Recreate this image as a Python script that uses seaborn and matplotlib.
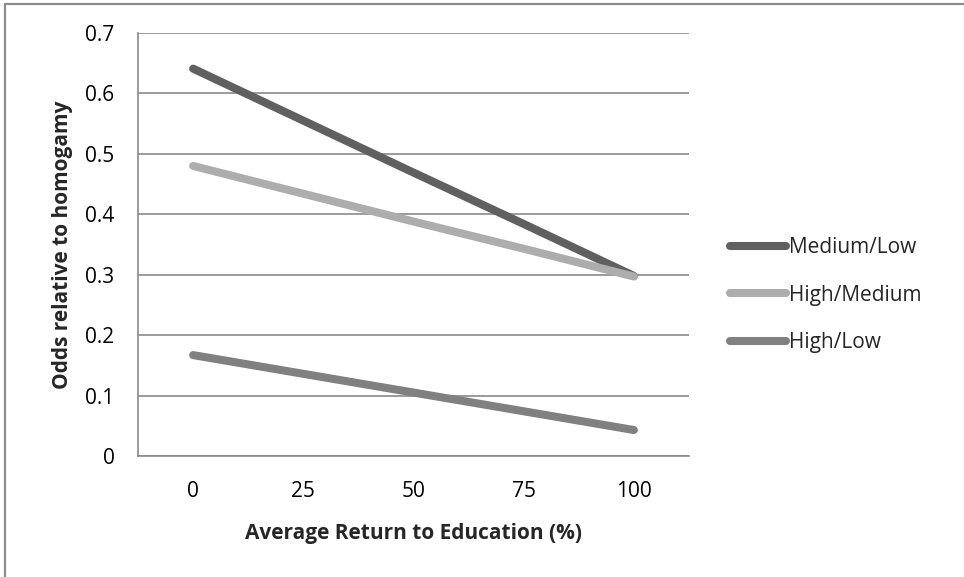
import pandas as pd
import numpy as np
import matplotlib.pyplot as plt
import seaborn as sns
from matplotlib.lines import Line2D

returns = [0, 25, 50, 75, 100]
medium_low = [0.641, 0.555, 0.469, 0.384, 0.298]
high_medium = [0.480, 0.434, 0.388, 0.343, 0.297]
high_low = [0.167, 0.136, 0.105, 0.074, 0.043]
series_names = ["Medium/Low", "High/Medium", "High/Low"]
y_ticks = [0, 0.1, 0.2, 0.3, 0.4, 0.5, 0.6, 0.7]
y_tick_labels = ["0", "0.1", "0.2", "0.3", "0.4", "0.5", "0.6", "0.7"]

df = pd.DataFrame({
    "Return": returns * 3,
    "Odds": medium_low + high_medium + high_low,
    "Pair": np.repeat(series_names, len(returns)),
})

sns.set_style("white")
plt.rcParams["font.family"] = ["Open Sans", "DejaVu Sans"]
FS = 15

fig = plt.figure(figsize=(9.64, 5.77), dpi=100)
ax = fig.add_axes([0.1432, 0.2097, 0.5715, 0.7331])

# chart frame is cropped: only top and left edges show
fig.lines.append(Line2D([0.0055, 0.0055], [0, 0.9935], transform=fig.transFigure,
                        color="#8c8c8c", linewidth=1.6))
fig.lines.append(Line2D([0.0055, 1], [0.9935, 0.9935], transform=fig.transFigure,
                        color="#8c8c8c", linewidth=1.6))

palette = {"Medium/Low": "#606060", "High/Medium": "#adadad", "High/Low": "#808080"}
sns.lineplot(data=df, x="Return", y="Odds", hue="Pair", palette=palette,
             linewidth=5.8, ax=ax, legend=False,
             solid_capstyle="round")

ax.set_xlim(-12.5, 112.5)
ax.set_ylim(0, 0.7)
ax.set_xticks(returns)
ax.set_xticklabels([str(r) for r in returns], fontsize=FS)
ax.set_yticks(y_ticks)
ax.set_yticklabels(y_tick_labels, fontsize=FS)
ax.tick_params(axis="both", length=0, colors="black")
ax.tick_params(axis="y", pad=17)
ax.tick_params(axis="x", pad=18)

ax.yaxis.grid(True, color="#8a8a8a", linewidth=1.2)
ax.xaxis.grid(False)
for side in ["top", "right"]:
    ax.spines[side].set_visible(False)
ax.spines["left"].set_color("#8a8a8a")
ax.spines["bottom"].set_color("#8a8a8a")
ax.spines["left"].set_linewidth(1.2)
ax.spines["bottom"].set_linewidth(1.2)

ax.set_xlabel("Average Return to Education (%)", fontsize=FS, fontweight="bold", labelpad=15)
ax.set_ylabel("Odds relative to homogamy", fontsize=FS, fontweight="bold", labelpad=9)

handles = [plt.Line2D([0], [0], color=palette[n], linewidth=5.8, solid_capstyle="round")
           for n in series_names]
fig.legend(handles, series_names, loc="upper left", bbox_to_anchor=(0.738, 0.621),
           frameon=False, fontsize=FS, handlelength=2.7, handletextpad=0.1,
           labelspacing=1.26)

fig.savefig("out.png", dpi=100)
